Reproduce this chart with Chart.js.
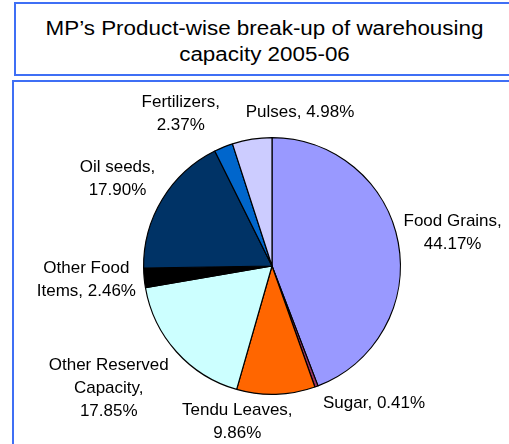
<!DOCTYPE html>
<html>
<head>
<meta charset="utf-8">
<script src="https://cdn.jsdelivr.net/npm/chart.js@4"></script>
<style>
    html, body { margin: 0; padding: 0; background: #fff; overflow: hidden; }
    body { width: 509px; height: 444px; position: relative; font-family: "Liberation Sans", Arial, sans-serif; }
    .box { position: absolute; border: 2px solid #3f6ff5; box-sizing: border-box; }
    #titleBox { left: 14px; top: 2px; width: 520px; height: 74px; }
    #chartBox { left: 12px; top: 80px; width: 520px; height: 380px; }
    #title { position: absolute; left: 17px; top: 2px; width: 495px; text-align: center; font-size: 20px; line-height: 26px; padding-top: 13px; color: #000; transform: scaleX(1.12); transform-origin: 50% 0; }
    #pie { position: absolute; left: 0; top: 0; }
</style>
</head>
<body>
<div class="box" id="titleBox"></div>
<div class="box" id="chartBox"></div>
<div id="title">MP’s Product-wise break-up of warehousing<br>capacity 2005-06</div>
<canvas id="pie" width="509" height="444"></canvas>
<script>
// Dati
const categories = ['Food Grains', 'Sugar', 'Tendu Leaves', 'Other Reserved Capacity', 'Other Food Items', 'Oil seeds', 'Fertilizers', 'Pulses'];
const shares = [44.17, 0.41, 9.86, 17.85, 2.46, 17.90, 2.37, 4.98];
const colours = ['#9999ff', '#993366', '#ff6600', '#ccffff', '#000000', '#003366', '#0066cc', '#ccccff'];

// posizione etichette: angolo (gradi dall'alto, orario), distanza in raggi, larghezza max riga
const labelAngle = [79.7, 143.3, 192.6, 233.1, 265.7, 299.3, 329, 10.3];
const labelDist = [1.43, 1.33, 1.24, 1.59, 1.45, 1.38, 1.38, 1.22];
const labelWrap = [110, 200, 125, 130, 110, 100, 100, 200];

function wrapText(ctx, text, maxW) {
    const words = text.split(' ');
    const lines = [];
    let cur = '';
    words.forEach(w => {
        const test = cur ? cur + ' ' + w : w;
        if (cur && ctx.measureText(test).width > maxW) {
            lines.push(cur);
            cur = w;
        } else cur = test;
    });
    if (cur) lines.push(cur);
    return lines;
}

const outsideLabels = {
    id: 'outsideLabels',
    afterDraw(chart) {
        const ctx = chart.ctx;
        const arc = chart.getDatasetMeta(0).data[0];
        const cx = arc.x, cy = arc.y, r = arc.outerRadius;
        ctx.save();
        ctx.font = '17px "Liberation Sans", Arial, sans-serif';
        ctx.fillStyle = '#000';
        ctx.textAlign = 'center';
        ctx.textBaseline = 'middle';
        const lh = 23;
        categories.forEach((name, i) => {
            const txt = name + ', ' + shares[i].toFixed(2) + '%';
            const lines = wrapText(ctx, txt, labelWrap[i]);
            const a = labelAngle[i] * Math.PI / 180;
            const x = cx + Math.sin(a) * r * labelDist[i];
            const y = cy - Math.cos(a) * r * labelDist[i];
            const y0 = y - (lines.length - 1) * lh / 2;
            lines.forEach((l, k) => ctx.fillText(l, x, y0 + k * lh));
        });
        ctx.restore();
    }
};

new Chart(document.getElementById('pie'), {
    type: 'pie',
    data: {
        labels: categories,
        datasets: [{
            data: shares,
            backgroundColor: colours,
            borderColor: '#000',
            borderWidth: 1.2
        }]
    },
    options: {
        responsive: false,
        animation: false,
        layout: { padding: { left: 143, right: 108, top: 137, bottom: 49 } },
        plugins: { legend: { display: false }, tooltip: { enabled: false } }
    },
    plugins: [outsideLabels]
});
</script>
</body>
</html>
